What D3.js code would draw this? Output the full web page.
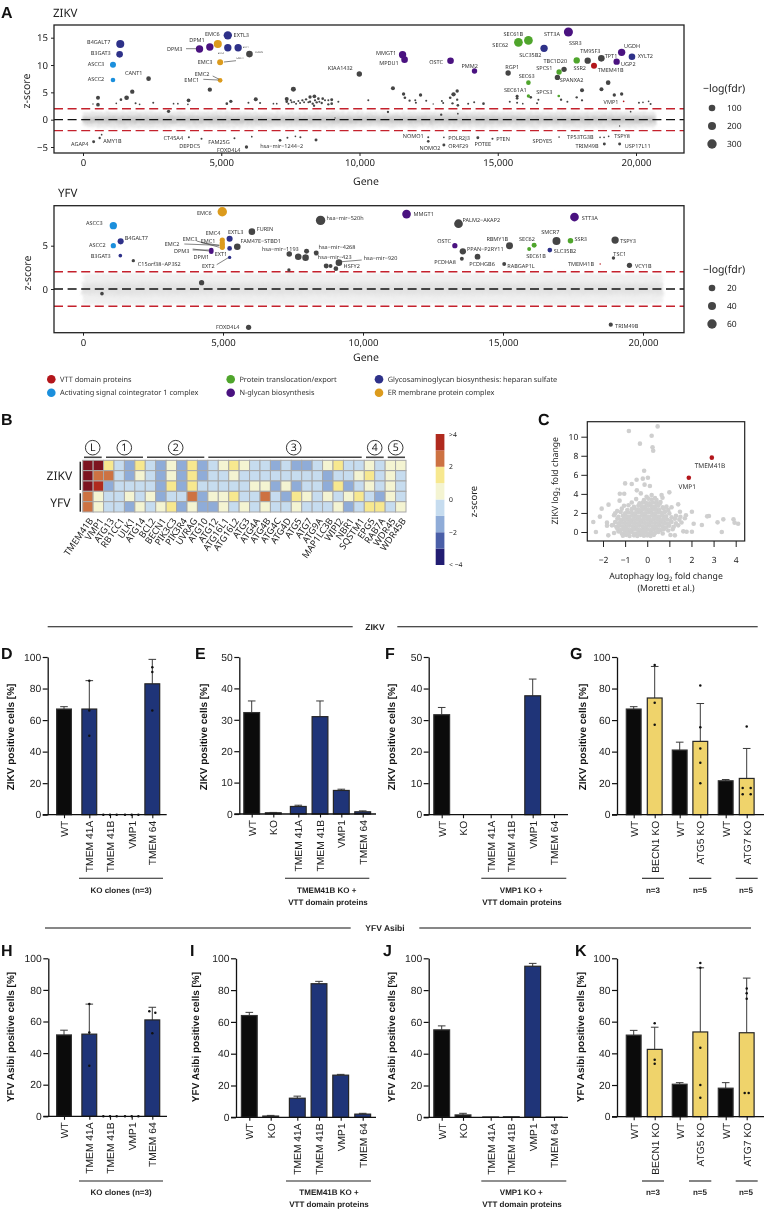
<!DOCTYPE html>
<html><head><meta charset="utf-8">
<style>html,body{margin:0;padding:0;background:#fff}svg{display:block;opacity:.999}text{text-rendering:geometricPrecision}</style>
<script src="https://cdn.jsdelivr.net/npm/d3@7"></script></head><body>
<svg id="c" width="764" height="1209"></svg>
<script>
/* ---------- DATA: panel A, [gene, z, -log(fdr)] ---------- */
const zikvOther=[[2372,7.5,64],[6020,12,101],[9993,8.35,77],[4587,5.49,58],[542,4.02,52],[542,2.74,46],[361,2.87,3],[1204,2.99,9],[1372,3.66,27],[1577,4.02,64],[1782,5.12,58],[1902,2.99,15],[2047,2.8,9],[2540,3.11,15],[3094,1.52,40],[3275,2.93,9],[3431,2.93,9],[3817,3.54,46],[3793,2.8,9],[5201,2.93,27],[5346,3.35,40],[5984,3.11,15],[6140,1.89,3],[6249,3.72,52],[6405,3.05,15],[6887,2.93,9],[7007,2.93,9],[7609,5.55,70],[7368,3.78,52],[7368,3.29,27],[7429,2.93,15],[7513,3.54,15],[7549,3.17,15],[7633,3.23,15],[7706,2.93,15],[7790,3.41,15],[7850,3.05,15],[7934,3.54,21],[7995,3.17,15],[8067,3.72,21],[8151,3.17,15],[8211,4.15,40],[8211,3.29,21],[8308,2.93,21],[8368,4.27,46],[8392,3.54,21],[8356,2.56,21],[8452,3.17,21],[8512,3.84,27],[8548,3.29,15],[8633,3.05,21],[8669,3.84,27],[8753,3.54,15],[8873,3.54,15],[8873,2.8,21],[8994,3.66,33],[8994,2.93,27],[9235,3.29,15],[10318,3.54,15],[9114,0.3,3],[385,-4.02,33],[602,-3.35,21],[674,-2.74,9],[3829,-3.23,15],[4286,-3.48,15],[5478,-3.41,15],[5912,-5,40],[6104,-3.11,9],[7128,-3.78,27],[7393,-3.29,15],[7682,-3.05,9],[7862,-3.23,15],[8428,-3.72,33],[11029,1.4,21],[11209,5.73,52],[11594,4.7,40],[11642,4.02,27],[11811,3.48,21],[12016,3.54,15],[12040,3.11,15],[12208,4.51,40],[12413,3.48,15],[12665,2.87,3],[12979,3.41,15],[13027,3.05,15],[12955,0.91,21],[13280,4.02,27],[13401,4.63,58],[13533,5.24,40],[13533,3.66,21],[13364,2.99,21],[13557,2.62,27],[13557,1.1,9],[13930,2.93,15],[14147,3.17,15],[14484,2.93,27],[15375,8.54,77],[15435,3.29,15],[15700,4.27,33],[15700,3.9,27],[15700,3.11,15],[15905,2.93,9],[16193,4.09,27],[16470,3.66,15],[16422,2.99,15],[17398,9.21,77],[17158,7.74,77],[17290,3.66,21],[17518,3.29,15],[17855,4.09,21],[18048,5.37,52],[18048,3.54,21],[18253,10.79,95],[18746,11.22,101],[18993,6.77,64],[18751,5.55,52],[19215,4.51,40],[19481,4.7,40],[19806,1.46,9],[20107,3.11,15],[20252,3.17,9],[20456,3.35,9],[20528,2.87,15],[12486,-3.23,15],[12486,-3.96,27],[13051,-3.23,9],[13051,-4.63,33],[14279,-3.29,33],[14809,-3.48,15],[17218,-3.17,9],[18700,-3.23,9],[18845,-3.23,9],[19010,-3.05,9],[18855,-4.45,33],[19408,-4.45,33],[19408,-1.16,3]];
const zikvVTT=[[18481,9.88,89],[19553,3.35,9]];
const zikvASC=[[1084,10.06,89],[1084,7.26,64]];
const zikvTransloc=[[15748,14.15,251],[16109,14.51,251],[16109,6.77,64],[16109,4.33,40],[17218,8.72,77],[17206,4.33,27],[17855,10.85,95]];
const zikvNglyc=[[4214,12.93,154],[4587,13.3,154],[11558,11.89,154],[11630,10.98,101],[13292,10.79,101],[14159,8.9,77],[17555,16.04,276],[19300,10.61,95],[19481,12.32,154]];
const zikvGAG=[[1348,13.84,202],[1324,11.95,101],[5237,15.43,227],[5237,13.17,154],[5611,13.17,154],[16675,13.05,154],[19854,11.52,101]];
const zikvEMC=[[4876,13.84,202],[4960,10.49,89],[4960,7.2,64]];
const yfvOther=[[1797,3.27,8],[678,-0.54,9],[4236,0.73,15],[6033,6.62,20],[5510,4.88,20],[8485,7.92,60],[13411,7.54,50],[13566,4.35,19],[13530,3.5,10],[14090,3.73,17],[15232,5,25],[15042,2.88,10],[16910,5.54,40],[19004,5.65,30],[18945,3.58,8],[19516,2.73,15],[18849,-4.12,11],[5914,-4.42,15],[7366,4.04,16],[7687,3.73,20],[7949,3.62,20],[7985,4.35,14],[8330,4.15,14],[9139,3.04,20],[8687,2.65,14],[8842,2.65,10],[9032,2.35,13],[7354,2.19,8]];
const yfvVTT=[[18470,2.88,1]];
const yfvASC=[[1083,7.31,30],[1083,5,15]];
const yfvTransloc=[[16113,5.04,14],[15934,4.62,10],[17410,5.58,16]];
const yfvNglyc=[[4581,4.5,13],[4581,4.31,13],[11555,8.65,50],[13280,5,15],[17553,8.31,50]];
const yfvGAG=[[1345,5.5,18],[1333,3.85,9],[5236,5.81,18],[5236,4.69,13],[5236,3.65,8],[16672,4.5,13]];
const yfvEMC=[[4974,8.92,60],[4974,5.65,15],[4974,5.31,15],[4974,5.08,15],[4974,4.81,15]];
/* background screen cloud, read as an envelope along the gene axis */
const bandGene=[0,1500,3000,5000,7000,9000,11000,13000,15000,17000,19000,20700];
const zikvBandOuter=[1.35,1.55,1.45,1.5,1.4,1.45,1.35,1.4,1.5,1.45,1.55,1.4];
const zikvBandInner=[0.65,0.8,0.75,0.75,0.7,0.75,0.7,0.75,0.8,0.75,0.8,0.7];
const yfvBandOuter=[1.75,1.85,1.8,1.75,1.85,1.8,1.85,1.75,1.8,1.85,1.75,1.7];
const yfvBandInner=[0.8,0.95,0.9,0.85,0.9,0.85,0.9,0.9,0.85,0.9,0.85,0.8];
const geneTicks=[0,5000,10000,15000,20000];
const zikvZTicks=[-5,0,5,10,15];
const yfvZTicks=[0,5];
const zikvSizeLegend=[100,200,300];
const yfvSizeLegend=[20,40,60];
/* ---------- panel B ---------- */
const heatGenes=["TMEM41B","VMP1","ATG13","RB1CC1","ULK1","ATG14","BCL2","BECN1","PIK3C3","PIK3R4","UVRAG","ATG10","ATG12","ATG16L1","ATG16L2","ATG3","ATG4A","ATG4B","ATG4C","ATG4D","ATG5","ATG7","ATG9A","MAP1LC3B","WIPI2","NBR1","SQSTM1","EPG5","RAB7A","WDR45","WDR45B"];
const heatZikv1=[5,5,1.5,-.5,-1.5,1.5,-.5,-1.5,.5,-1.5,1.5,-1.5,-.5,.5,1.5,.5,-.5,-.5,-1.5,-.5,-1.5,-1.5,-.5,.5,1.5,-.5,-.5,.5,-.5,.5,.5];
const heatZikv2=[5,2.5,2.5,-.5,-1.5,.5,-.5,-1.5,.5,-1.5,1.5,-1.5,-.5,-.5,.5,-.5,-.5,-.5,-.5,-.5,-.5,-.5,-.5,-1.5,-.5,-.5,.5,1.5,-.5,.5,-.5];
const heatZikv3=[5,3.5,-1.5,-.5,-.5,-.5,-.5,-1.5,1.5,-1.5,1.5,-.5,-.5,-.5,-.5,-.5,.5,.5,-1.5,.5,-1.5,-.5,-.5,-1.5,1.5,-1.5,-.5,.5,-.5,.5,-.5];
const heatYfv1=[2.5,.5,-.5,-.5,.5,-.5,.5,-1.5,-.5,-.5,2.5,-1.5,.5,.5,1.5,-.5,-.5,2.5,-.5,-1.5,1.5,.5,-.5,.5,-.5,.5,1.5,-.5,-1.5,.5,-.5];
const heatYfv2=[2.5,.5,-.5,-.5,-1.5,.5,-.5,.5,1.5,-1.5,.5,-1.5,-1.5,.5,-.5,.5,-.5,.5,-.5,-.5,.5,-.5,-.5,-.5,.5,-1.5,-.5,1.5,1.5,-.5,.5];
const heatRows=[heatZikv1,heatZikv2,heatZikv3,heatYfv1,heatYfv2];
const heatLevels=[-3.5,-2.5,-1.5,-.5,.5,1.5,2.5,3.5];
const heatLegendLabels=["< −4","−2","0","2",">4"];
const heatLegendValues=[-4,-2,0,2,4];
const heatGroups=["L","1","2","3","4","5"];
/* ---------- panel C: [autophagy log2FC, ZIKV log2FC] ---------- */
const autophagyHits=[[2.92,7.8,"TMEM41B"],[1.88,5.7,"VMP1"]];
const autophagyOutliers=[[.47,11.08],[-.83,10.6],[.2,10.1],[-.33,9.27],[.24,8.88],[.27,8.53],[-.14,6.43],[-1,5.1],[-.7,5.03],[-.48,5.49],[-.2,5.6],[.03,5.7],[-.12,4.97],[.12,4.83],[-.47,4.37],[-.29,4.05],[-1.24,4.02],[-1.04,4.02],[1,4.16],[.65,3.88],[-1.25,3.29],[-1.75,2.87],[-2.06,2.45],[-2.14,1.61],[-2.44,1.05],[-2.32,0],[-1.82,.98],[-1.82,.66],[-1.76,-.35],[-1.55,.73],[-1.45,1.96],[-1.36,2.2],[-1.05,2.76],[1.4,2.9],[2.02,2.13],[1.48,2.13],[1.1,2.59],[2.1,.87],[2.47,.73],[2.71,1.64],[2.79,1.68],[3.18,1.01],[3.44,1.33],[3.37,0],[3.9,1.33],[3.95,.98],[4.11,.87],[1.63,.07],[1.78,.03],[2.02,.03],[1.05,-.31],[1.25,-.35],[.69,3.6],[.42,3.36],[-.03,3.7],[.2,3.88],[.57,3],[.87,2.66]];
const autophagyCore=[[-1.1,-.4],[-.95,-.3],[-.8,-.42],[-.6,-.35],[-.45,-.42],[-.3,-.3],[-.15,-.4],[0,-.35],[.15,-.42],[.3,-.3],
[-1.5,-.1],[-1.3,.05],[-1.15,-.15],[-1,0],[-.85,-.1],[-.7,0],[-.55,-.15],[-.4,-.05],[-.25,-.1],[-.1,0],[.05,-.15],[.2,-.05],[.35,-.1],[.5,0],[.7,-.15],
[-1.35,.35],[-1.2,.2],[-1.05,.3],[-.9,.25],[-.75,.2],[-.6,.3],[-.45,.25],[-.3,.2],[-.15,.3],[0,.25],[.15,.2],[.3,.3],[.45,.25],[.6,.2],[.75,.3],[.95,.15],[1.15,.3],
[-1.6,.7],[-1.4,.55],[-1.25,.65],[-1.1,.6],[-.95,.55],[-.8,.65],[-.65,.6],[-.5,.55],[-.35,.65],[-.2,.6],[-.05,.55],[.1,.65],[.25,.6],[.4,.55],[.55,.65],[.7,.6],[.85,.5],[1,.65],[1.2,.55],[1.4,.7],
[-1.45,1.05],[-1.3,.9],[-1.15,1],[-1,.95],[-.85,.9],[-.7,1],[-.55,.95],[-.4,.9],[-.25,1],[-.1,.95],[.05,.9],[.2,1],[.35,.95],[.5,.9],[.65,1],[.8,.95],[.95,.85],[1.1,1.05],[1.3,.9],[1.55,1],
[-1.35,1.4],[-1.2,1.25],[-1.05,1.35],[-.9,1.3],[-.75,1.25],[-.6,1.35],[-.45,1.3],[-.3,1.25],[-.15,1.35],[0,1.3],[.15,1.25],[.3,1.35],[.45,1.3],[.6,1.25],[.75,1.35],[.9,1.3],[1.05,1.2],[1.25,1.4],[1.45,1.3],[1.7,1.45],
[-1.5,1.75],[-1.3,1.6],[-1.1,1.7],[-.95,1.65],[-.8,1.6],[-.65,1.7],[-.5,1.65],[-.35,1.6],[-.2,1.7],[-.05,1.65],[.1,1.6],[.25,1.7],[.4,1.65],[.55,1.6],[.7,1.7],[.85,1.65],[1.1,1.55],[1.3,1.7],[1.5,1.6],[1.75,1.75],
[-1.2,2.1],[-1,1.95],[-.85,2.05],[-.7,2],[-.55,1.95],[-.4,2.05],[-.25,2],[-.1,1.95],[.05,2.05],[.2,2],[.35,1.95],[.5,2.05],[.65,2],[.8,2.1],[1,1.95],
[-1.15,2.45],[-.9,2.3],[-.7,2.4],[-.5,2.35],[-.35,2.3],[-.2,2.4],[-.05,2.35],[.1,2.3],[.25,2.4],[.4,2.35],[.55,2.3],[.75,2.45],[.95,2.3],
[-.85,2.8],[-.6,2.65],[-.4,2.75],[-.25,2.7],[-.1,2.65],[.05,2.75],[.2,2.7],[.35,2.65],[.5,2.75],[.7,2.6],
[-.7,3.1],[-.35,3],[-.2,3.1],[-.05,3.05],[.1,3],[.25,3.1],[.4,3.05],[.6,3.15],
[-.5,3.45],[-.15,3.35],[.05,3.5],[.2,3.4],[.35,3.55]];
const cXTicks=[-2,-1,0,1,2,3,4];
const cYTicks=[0,2,4,6,8,10];
/* ---------- panels D-K ---------- */
const clones=["WT","TMEM 41A","TMEM 41B","VMP1","TMEM 64"];
const rescue=["WT","KO","TMEM 41A","TMEM 41B","VMP1","TMEM 64"];
const atg=["WT","BECN1 KO","WT ","ATG5 KO","WT  ","ATG7 KO"];
const pct100=[0,20,40,60,80,100];
const pct50=[0,10,20,30,40,50];
const dMean=[67,67,0,0,83], dUpper=[68.5,85,0,0,98.5];
const dDots=[[],[[85,0],[66,0],[50,0]],[[0,-6.7],[0,0],[0,6.7]],[[0,-6.7],[0,0],[0,6.7]],[[93.5,0],[90.5,0],[66,0]]];
const eMean=[32.3,.4,2.4,31,7.5,.7], eUpper=[36,.5,2.8,36,7.9,1];
const fMean=[31.7,0,0,0,37.7,0], fUpper=[34,0,0,0,43,0];
const gMean=[67,74,41,46.5,21.5,23], gUpper=[68.5,94,46,70.5,22.3,42];
const gDots=[[],[[95,0],[71,0],[57,0]],[],[[82,0],[55.5,0],[42,0],[33,0],[20,0]],[],[[56,0],[17,-4],[17,4],[13,-4],[13,4]]];
const hMean=[51.5,52,0,0,61], hUpper=[54.5,71,0,0,69];
const hDots=[[],[[71,0],[53,0],[32,0]],[[0,-6.7],[0,0],[0,6.7]],[[0,-6.7],[0,0],[0,6.7]],[[66.5,-3],[65.5,3],[52.5,0]]];
const iMean=[64,.8,12,84,26.5,2], iUpper=[66,1.2,13.3,85.5,27,2.5];
const jMean=[55,1.5,.2,.3,95,.1], jUpper=[57.5,2.5,.2,.3,96.8,.1];
const kMean=[51.5,42.5,20.5,53.5,18,53], kUpper=[54.5,56.5,21.5,94,21.5,87.5];
const kDots=[[],[[59,0],[36,0],[33.5,0]],[],[[97,0],[94,0],[43.5,0],[20,0],[12,0]],[],[[81,0],[78,0],[74.5,0],[15,-2],[15,2]]];

/* ---------- STYLE ---------- */
const colors={other:"#454545",vtt:"#b3161b",asc:"#1b8fdc",transloc:"#4fa52c",nglyc:"#4a1280",gag:"#2e3189",emc:"#dc9b1d"};
const heatColors=["#221d72","#4a5fa8","#8facd8","#c6dcef","#f4f4d2","#f7e88f","#cd7242","#b02a1e","#7d1420"];
const sansA='"Noto Sans","Open Sans",sans-serif', sansB='"Liberation Sans",Arial,sans-serif';
const svg=d3.select("#c");
function txt(s,x,y,o={}){return (o.g||svg).append("text").attr("x",x).attr("y",y).attr("dy",".35em").attr("text-anchor",o.a||"middle")
  .attr("font-family",o.f||sansA).attr("font-size",o.s||6).attr("font-weight",o.w||400).attr("fill",o.c||"#222")
  .attr("transform",o.r!=null?`rotate(${o.r},${x},${y})`:null).text(s);}
function ln(x1,y1,x2,y2,c="#222",w=1){return svg.append("line").attr("x1",x1).attr("y1",y1).attr("x2",x2).attr("y2",y2).attr("stroke",c).attr("stroke-width",w);}
[["A",1,12],["B",1,419],["C",538,419],["D",1,653],["E",195,653],["F",385,653],["G",570,653],["H",1,950],["I",190,950],["J",383,950],["K",575,950]]
  .forEach(d=>txt(d[0],d[1],d[2],{a:"start",s:16,w:700,f:sansB,c:"#111"}));
const soft=svg.append("defs").append("filter").attr("id","soft").attr("x","-2%").attr("y","-40%").attr("width","104%").attr("height","180%");
soft.append("feTurbulence").attr("type","fractalNoise").attr("baseFrequency",.55).attr("numOctaves",2).attr("seed",3).attr("result","n");
soft.append("feDisplacementMap").attr("in","SourceGraphic").attr("in2","n").attr("scale",7).attr("xChannelSelector","R").attr("yChannelSelector","G").attr("result","d");
soft.append("feGaussianBlur").attr("in","d").attr("stdDeviation",.8);

/* ---------- PANEL A ---------- */
function manhattan(cfg){
  const x=d3.scaleLinear().domain([0,20000]).range(cfg.xr), y=d3.scaleLinear().domain(cfg.yd).range(cfg.yr);
  const r=d3.scaleLinear().domain([0,cfg.sizes[0],cfg.sizes[2]]).range([.6,3.3,4.7]);
  const g=svg.append("g");
  const band=(vals,fill,k)=>{g.append("path").attr("filter","url(#soft)").attr("fill",fill)
     .attr("d",d3.area().x((d,i)=>x(bandGene[i])).y0((d)=>y(-d*k)).y1(d=>y(d*k))(vals));};
  band(cfg.outer,cfg.bc[0],1);band(cfg.inner,cfg.bc[1],1);band(cfg.inner,cfg.bc[2],.55);
  [2,-2].forEach(v=>ln(cfg.fx[0],y(v),cfg.fx[1],y(v),"#c4212c",1.4).attr("stroke-dasharray","9,4.6"));
  ln(cfg.fx[0],y(0),cfg.fx[1],y(0),"#111",1.3).attr("stroke-dasharray","9,4.6");
  cfg.series.forEach(([data,col])=>svg.append("g").selectAll("circle").data(data).join("circle")
    .attr("cx",d=>x(d[0])).attr("cy",d=>y(d[1])).attr("r",d=>r(d[2])).attr("fill",col));
  svg.append("rect").attr("x",cfg.fx[0]).attr("y",cfg.fy[0]).attr("width",cfg.fx[1]-cfg.fx[0]).attr("height",cfg.fy[1]-cfg.fy[0])
    .attr("fill","none").attr("stroke","#222").attr("stroke-width",1.3);
  const ax=svg.append("g").attr("transform",`translate(0,${cfg.fy[1]})`).call(d3.axisBottom(x).tickValues(geneTicks).tickFormat(d3.format(",")).tickSize(3).tickSizeOuter(0));
  const ay=svg.append("g").attr("transform",`translate(${cfg.fx[0]},0)`).call(d3.axisLeft(y).tickValues(cfg.ticks).tickFormat(d3.format("d")).tickSize(3).tickSizeOuter(0));
  [ax,ay].forEach(a=>{a.select(".domain").remove();a.selectAll("line").attr("stroke","#222").attr("stroke-width",1);
    a.selectAll("text").attr("font-family",sansA).attr("font-size",9.6).attr("fill","#222");});
  ax.selectAll("text").attr("y",6);
  txt("z-score",cfg.zl[0],cfg.zl[1],{s:10.5,r:-90});
  txt("Gene",cfg.gl[0],cfg.gl[1],{s:10.5});
  txt(cfg.name,cfg.nl[0],cfg.nl[1],{s:11.5,a:"start"});
  txt("−log(fdr)",703,cfg.leg[0],{s:10.5,a:"start"});
  cfg.sizes.forEach((s,i)=>{const yy=cfg.leg[1]+i*18;svg.append("circle").attr("cx",712).attr("cy",yy).attr("r",r(s)).attr("fill",colors.other);
     txt(s,727,yy,{s:8.5,a:"start"});});
  cfg.labels.forEach(l=>txt(l[0],l[1],l[2],{s:5.5,c:"#333"}));
  (cfg.tiny||[]).forEach(l=>txt(l[0],l[1],l[2],{s:2.6,c:"#333"}));
  cfg.leaders.forEach(l=>ln(l[0],l[1],l[2],l[3],"#333",.6));
}
const zikvLabels=[["B4GALT7",98.7,41.7],["B3GAT3",100.7,53.3],["ASCC3",96,64.3],["ASCC2",96,79.3],["CANT1",133.7,72.7],["DPM1",197,40.3],["DPM3",174.7,49],["EMC6",212.3,34.3],["EXTL3",241.3,34.7],["EMC3",205,62],["EMC2",202,73.7],["EMC1",191.7,80.3],["KIAA1432",340.3,68.3],["AGAP4",79.7,143.7],["AMY1B",112.3,141],["CT45A4",173.3,138.3],["DEPDC5",189.7,145.7],["FAM25G",219,142],["FOXD4L4",228.7,149.7],["hsa−mir−1244−2",281.7,145.7],["MMGT1",386,53],["MPDU1",389,62.7],["OSTC",436,61.7],["PMM2",469.7,65.7],["RGP1",512.3,66.7],["SEC61B",513.3,33.7],["SEC62",500.3,45],["STT3A",552,34.3],["SSR3",575.3,42.7],["TM95F3",590.3,50.7],["SLC35B2",530.3,55],["TBC1D20",555.3,61.3],["SPCS1",544.3,68],["SSR2",579.7,68],["TPT1",611,56],["UGDH",632,46.3],["XYLT2",645.3,56.3],["UGP2",628.3,63.7],["TMEM41B",610.7,70.3],["SEC63",526.7,76],["SPANXA2",571.7,80.3],["SEC61A1",515.3,90.3],["SPCS3",544.3,92.3],["VMP1",611,102],["NOMO1",413.3,135.7],["NOMO2",430,148.3],["POLR2J3",459,137.7],["OR4F29",458.3,146.3],["POTEE",482.7,143.7],["PTEN",503,139],["SPDYE5",542.3,140.7],["TP53TG3B",580.3,137],["TSPY8",622,135.7],["TRIM49B",587,146.3],["USP17L11",637.7,145.7]];
const zikvTiny=[["EXT2",220.7,52.7],["EXT1",245.7,47.3],["FURIN",259,51.7],["EMC4",240,58.3]];
const zikvLeaders=[[186,48.7,196.7,48.7],[224,62,236,60.7],[203.3,79.3,218.3,80],[212.7,76,219.3,79.3]];
const yfvLabels=[["ASCC3",94.3,223.3],["ASCC2",97.3,245],["B4GALT7",136.3,238.3],["B3GAT3",100.7,255.7],["C15orf38−AP3S2",159.3,263.7],["EMC6",204.3,212.7],["EMC4",213,233.3],["EXTL3",235.7,232.3],["FURIN",265,229],["EMC3",190,239.3],["EMC1",208,240.7],["EMC2",172,243.7],["FAM47E−STBD1",260.7,240.7],["DPM3",181.7,250.7],["EXT1",221,253.7],["DPM1",201.3,257],["EXT2",208.3,266.3],["FOXD4L4",227.7,327.3],["hsa−mir−520h",345,218.3],["hsa−mir−1193",280.3,249],["hsa−mir−4268",337,247.3],["hsa−mir−423",334.7,257],["hsa−mir−920",380.5,258.3],["HSFY2",351.7,266],["MMGT1",423.7,214.3],["PALM2−AKAP2",481.3,220.3],["OSTC",444,241.3],["PPAN−P2RY11",485.3,248.7],["PCDHA8",445,262.3],["PCDHGB6",482,263.7],["RBMY1B",497.3,238.7],["SEC62",527,239.3],["SEC61B",536,255.7],["SLC35B2",565,251.3],["SMCR7",550.3,232],["SSR3",580.7,238.7],["STT3A",589.7,218],["TSPY3",628,240.7],["TSC1",619.7,254],["TMEM41B",581,264.3],["VCY1B",643.3,266.3],["RABGAP1L",521,266],["TRIM49B",626.7,325.7]];
const yfvLeaders=[[196.7,241,219.3,247.3],[201.7,242.7,219.3,245.3],[184.3,244,219.3,245.3],[192.7,250,209,250],[192.7,249,209,251],[216.7,264.7,228.3,257.7],[341.7,261.7,361.7,260]];
manhattan({name:"ZIKV",nl:[53,13],xr:[83,636],yd:[-5,15],yr:[147,37.7],fx:[54,684],fy:[25,153],ticks:zikvZTicks,sizes:zikvSizeLegend,
  outer:zikvBandOuter,inner:zikvBandInner,bc:["#e8e8e8","#d8d8d8","#c6c6c6"],zl:[26,91],gl:[366,181],leg:[88,108],labels:zikvLabels,tiny:zikvTiny,leaders:zikvLeaders,
  series:[[zikvOther,colors.other],[zikvVTT,colors.vtt],[zikvASC,colors.asc],[zikvTransloc,colors.transloc],[zikvNglyc,colors.nglyc],[zikvGAG,colors.gag],[zikvEMC,colors.emc]]});
manhattan({name:"YFV",nl:[58,193],xr:[83,643],yd:[-5,5],yr:[332.3,245.7],fx:[54,684],fy:[205.7,332.7],ticks:yfvZTicks,sizes:yfvSizeLegend,
  outer:yfvBandOuter,inner:yfvBandInner,bc:["#f0f0f0","#e9e9e9","#e2e2e2"],zl:[27,273],gl:[366,357.7],leg:[269,288],labels:yfvLabels,leaders:yfvLeaders,
  series:[[yfvOther,colors.other],[yfvVTT,colors.vtt],[yfvASC,colors.asc],[yfvTransloc,colors.transloc],[yfvNglyc,colors.nglyc],[yfvGAG,colors.gag],[yfvEMC,colors.emc]]});
[[51.3,379.3,"VTT domain proteins",colors.vtt],[51.3,392.7,"Activating signal cointegrator 1 complex",colors.asc],[230.7,379.3,"Protein translocation/export",colors.transloc],[230.7,392.7,"N-glycan biosynthesis",colors.nglyc],[379,379.3,"Glycosaminoglycan biosynthesis: heparan sulfate",colors.gag],[379,392.7,"ER membrane protein complex",colors.emc]]
 .forEach(d=>{svg.append("circle").attr("cx",d[0]).attr("cy",d[1]).attr("r",4.3).attr("fill",d[3]);txt(d[2],d[0]+8.7,d[1],{s:7.35,a:"start",c:"#333"});});

/* ---------- PANEL B ---------- */
const hx=d3.scaleBand().domain(heatGenes).range([82.7,406]);
const hy=d3.scaleBand().domain(d3.range(5)).range([460.3,512]);
const hc=d3.scaleThreshold().domain([-3,-2,-1,0,1,2,3,4]).range(heatColors);
svg.append("g").selectAll("g").data(heatRows).join("g").attr("transform",(d,i)=>`translate(0,${hy(i)})`)
  .selectAll("rect").data(d=>d).join("rect").attr("x",(d,i)=>hx(heatGenes[i])).attr("width",hx.bandwidth()).attr("height",hy.bandwidth())
  .attr("fill",d=>hc(d)).attr("stroke","#a8a8a8").attr("stroke-width",1);
const hxAxis=svg.append("g").attr("transform","translate(0,512)").call(d3.axisBottom(hx).tickSize(0));
hxAxis.select(".domain").remove();
hxAxis.selectAll("text").attr("font-family",sansA).attr("font-size",9.2).attr("fill","#222").attr("text-anchor","end").attr("dy",".35em").attr("y",0).attr("x",0)
  .attr("transform","translate(3,7) rotate(-55)");
[[84,101.7],[106,143],[147,204.3],[208.3,361.7],[366,383.7],[387.7,405]].forEach((d,i)=>{
  ln(d[0],457.3,d[1],457.3,"#444",1.6);
  const cx=[92.7,124.3,175.7,293.7,374.7,395.7][i];
  svg.append("circle").attr("cx",cx).attr("cy",447.7).attr("r",7.3).attr("fill","#fff").attr("stroke","#222").attr("stroke-width",.9);
  txt(heatGroups[i],cx,447.7,{s:10.5});
});
ln(80.3,461.7,80.3,490,"#222",1.5);ln(80.3,493.3,80.3,511.7,"#222",1.5);
txt("ZIKV",59.3,475.7,{s:12});txt("YFV",60.3,502.7,{s:12});
const barScale=d3.scaleLinear().domain([-4,4]).range([565,434]);
svg.append("g").selectAll("rect").data(heatLevels).join("rect").attr("x",435.7).attr("width",8.7)
  .attr("y",d=>barScale(d+.5)).attr("height",d=>barScale(d-.5)-barScale(d+.5)).attr("fill",d=>hc(d));
heatLegendValues.forEach((v,i)=>txt(heatLegendLabels[i],449,barScale(v)+(v==4?1:0),{s:6.8,a:"start"}));
txt("z-score",474,501.5,{s:9.5,r:-90});

/* ---------- PANEL C ---------- */
const cx=d3.scaleLinear().domain([-2,4]).range([603,735.7]);
const cy=d3.scaleLinear().domain([0,10]).range([532,436.7]);
svg.append("g").selectAll("circle").data(autophagyCore.concat(autophagyOutliers)).join("circle").attr("cx",d=>cx(d[0])).attr("cy",d=>cy(d[1])).attr("r",2.3).attr("fill","#cfcfcf");
svg.append("g").selectAll("circle").data(autophagyHits).join("circle").attr("cx",d=>cx(d[0])).attr("cy",d=>cy(d[1])).attr("r",2.3).attr("fill",colors.vtt);
svg.append("rect").attr("x",587.3).attr("y",421.7).attr("width",157.4).attr("height",119.3).attr("fill","none").attr("stroke","#222").attr("stroke-width",1.2);
const cax=svg.append("g").attr("transform","translate(0,541)").call(d3.axisBottom(cx).tickValues(cXTicks).tickFormat(d3.format("d")).tickSize(6).tickSizeOuter(0));
const cay=svg.append("g").attr("transform","translate(587.3,0)").call(d3.axisLeft(cy).tickValues(cYTicks).tickFormat(d3.format("d")).tickSize(6).tickSizeOuter(0));
[cax,cay].forEach(a=>{a.select(".domain").remove();a.selectAll("line").attr("stroke","#222").attr("stroke-width",1);a.selectAll("text").attr("font-family",sansA).attr("font-size",8.5).attr("fill","#222");});
cax.selectAll("text").attr("y",16);
txt("TMEM41B",710,466,{s:6.5,c:"#333"});txt("VMP1",687.3,486.3,{s:6.5,c:"#333"});
function logLabel(pre,post,x,y,r){const t=txt("",x,y,{s:8.7,r:r});t.append("tspan").text(pre);t.append("tspan").attr("font-size",6).attr("dy",2).text("2");t.append("tspan").attr("dy",-2).text(post);}
logLabel("ZIKV log"," fold change",555.3,480.7,-90);
logLabel("Autophagy log"," fold change",666,575.7);
txt("(Moretti et al.)",666,588,{s:8.7});

/* ---------- PANELS D-K ---------- */
const sep=[[47.7,352.7,626.7],[397.3,757.7,626.7],[45,350.7,928],[419.3,751,928]];
sep.forEach(d=>ln(d[0],d[2],d[1],d[2],"#111",1.1));
txt("ZIKV",375,626.7,{s:8.5,w:700,f:sansB});txt("YFV Asibi",385,928,{s:8.5,w:700,f:sansB});
function barPanel(p){
  const idx=d3.range(p.cats.length);
  const x=d3.scaleOrdinal().domain(p.cats).range(p.cx);
  const y=d3.scaleLinear().domain([0,p.max]).range([p.y0,p.y1]);
  const w=p.w||16;
  const fill=c=>/^(WT|KO)/.test(c)?"#0b0b0b":(/(BECN1|ATG)/.test(c)?"#efd36b":"#1f3478");
  const g=svg.append("g");
  g.selectAll("line.e").data(idx.filter(i=>p.up[i]>p.mean[i])).join("g").each(function(i){
     const s=d3.select(this),X=x(p.cats[i]);
     const add=(a,b,c,d)=>s.append("line").attr("x1",a).attr("y1",b).attr("x2",c).attr("y2",d).attr("stroke","#3a3a3a").attr("stroke-width",1);
     add(X,y(p.mean[i]),X,y(p.up[i]));add(X-3.8,y(p.up[i]),X+3.8,y(p.up[i]));});
  g.selectAll("rect").data(idx.filter(i=>p.mean[i]>0)).join("rect")
    .attr("x",i=>x(p.cats[i])-w/2+.6).attr("width",w-1.2).attr("y",i=>y(p.mean[i])).attr("height",i=>p.y0-y(p.mean[i]))
    .attr("fill",i=>fill(p.cats[i])).attr("stroke",i=>fill(p.cats[i])=="#0b0b0b"?"#333":"#262626").attr("stroke-width",1.2);
  const ya=svg.append("g").attr("transform",`translate(${p.ax},0)`).call(d3.axisLeft(y).tickValues(p.ticks).tickSize(5).tickSizeOuter(0));
  ya.select(".domain").attr("stroke","#111").attr("stroke-width",1.3);
  ya.selectAll("line").attr("stroke","#111").attr("stroke-width",1.2);
  ya.selectAll("text").attr("font-family",sansB).attr("font-size",10.3).attr("fill","#222").attr("x",-6.5);
  ln(p.ax-5,p.y0,p.xEnd,p.y0,"#111",1.3);
  const xa=svg.append("g").attr("transform",`translate(0,${p.y0})`).call(d3.axisBottom(x).tickSize(3.5).tickSizeOuter(0));
  xa.select(".domain").remove();
  xa.selectAll("line").attr("stroke","#111").attr("stroke-width",1.1);
  xa.selectAll("text").attr("font-family",sansB).attr("font-size",10.3).attr("fill","#222").attr("text-anchor","end").attr("x",0).attr("y",0).attr("dy",".35em").attr("transform","translate(0,6) rotate(-90)");
  if(p.dots)p.dots.forEach((ds,i)=>g.append("g").selectAll("circle").data(ds).join("circle").attr("cx",d=>x(p.cats[i])+d[1]).attr("cy",d=>y(d[0])).attr("r",1.25).attr("fill","#111"));
  txt(p.ylab,p.ylx,p.yly,{s:10,w:700,f:sansB,r:-90,c:"#111"});
  p.under.forEach(u=>ln(u[0],p.uy,u[1],p.uy,"#222",1.1));
  p.notes.forEach((n,i)=>txt(n[0],n[1],p.uy+11.5+(n[2]||0)*12,{s:8,w:700,f:sansB}));
}
const cxD=[64,89.3,110,131.7,152.3], cxE=[251.7,273.3,298.3,320,341.3,362.7], cxF=[441.7,463,490.7,511.3,532.7,554], cxG=[633.7,654.7,679.7,700.3,725.7,746.7], cxI=[249.3,270.7,297.3,319,340.7,362.7];
const underG=[[642,664],[689,711.3],[735.7,757.7]], notesG=[["n=3",653],["n=5",700],["n=5",746]];
const zl="ZIKV positive cells [%]", yl="YFV Asibi positive cells [%]";
barPanel({cats:clones,cx:cxD,mean:dMean,up:dUpper,dots:dDots,max:100,ticks:pct100,ax:47.7,xEnd:166.7,y0:814.7,y1:657,ylab:zl,ylx:10.7,yly:737,uy:878.3,under:[[79,163]],notes:[["KO clones (n=3)",121]]});
barPanel({cats:rescue,cx:cxE,mean:eMean,up:eUpper,max:50,ticks:pct50,ax:239.3,xEnd:376,y0:814,y1:657,w:17,ylab:zl,ylx:203,yly:737,uy:878.3,under:[[285,369.3]],notes:[["TMEM41B KO +",326.7],["VTT domain proteins",328,1]]});
barPanel({cats:rescue,cx:cxF,mean:fMean,up:fUpper,max:50,ticks:pct50,ax:428.7,xEnd:568,y0:814.7,y1:657,w:17,ylab:zl,ylx:391.3,yly:737,uy:878.3,under:[[481.3,566.3]],notes:[["VMP1 KO +",521.3],["VTT domain proteins",522,1]]});
barPanel({cats:atg,cx:cxG,mean:gMean,up:gUpper,dots:gDots,max:100,ticks:pct100,ax:617,xEnd:764,y0:814.7,y1:657,ylab:zl,ylx:582,yly:737,uy:878.3,under:underG,notes:notesG});
barPanel({cats:clones,cx:cxD,mean:hMean,up:hUpper,dots:hDots,max:100,ticks:pct100,ax:48.3,xEnd:167,y0:1116.3,y1:958.3,ylab:yl,ylx:10,yly:1037,uy:1181,under:[[79,163]],notes:[["KO clones (n=3)",121]]});
barPanel({cats:rescue,cx:cxI,mean:iMean,up:iUpper,max:100,ticks:pct100,ax:236,xEnd:376,y0:1117.3,y1:958.3,w:17,ylab:yl,ylx:195,yly:1037,uy:1181,under:[[286,371]],notes:[["TMEM41B KO +",329],["VTT domain proteins",329,1]]});
barPanel({cats:rescue,cx:cxF,mean:jMean,up:jUpper,max:100,ticks:pct100,ax:428.7,xEnd:568,y0:1117.3,y1:958.3,w:17,ylab:yl,ylx:391.3,yly:1037,uy:1181,under:[[481.3,566.3]],notes:[["VMP1 KO +",521.3],["VTT domain proteins",522,1]]});
barPanel({cats:atg,cx:cxG,mean:kMean,up:kUpper,dots:kDots,max:100,ticks:pct100,ax:617,xEnd:764,y0:1116.7,y1:958.3,ylab:yl,ylx:580.3,yly:1037,uy:1181,under:underG,notes:notesG});
</script></body></html>
